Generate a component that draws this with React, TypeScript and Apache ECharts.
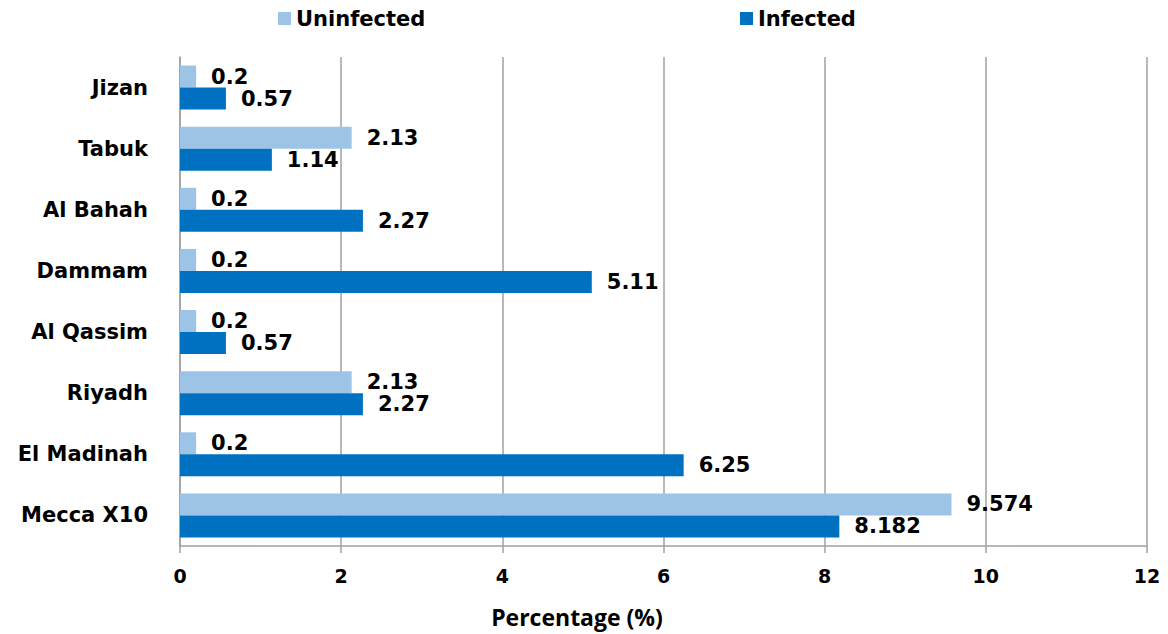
import React, { useEffect, useRef } from "react";
import * as echarts from "echarts";

const categories = ["Mecca X10", "El Madinah", "Riyadh", "Al Qassim", "Dammam", "Al Bahah", "Tabuk", "Jizan"];
const uninfected = [9.574, 0.2, 2.13, 0.2, 0.2, 0.2, 2.13, 0.2];
const infected = [8.182, 6.25, 2.27, 0.57, 5.11, 2.27, 1.14, 0.57];
const xTicks = { min: 0, max: 12, interval: 2 };

const FONT = "DejaVu Sans";

export default function App() {
  const ref = useRef<HTMLDivElement>(null);
  useEffect(() => {
    if (!ref.current) return;
    const chart = echarts.init(ref.current, undefined, { renderer: "svg" });
    const labelStyle = {
      show: true,
      position: "right" as const,
      distance: 15,
      color: "#000",
      fontFamily: FONT,
      fontWeight: "bold" as const,
      fontSize: 21,
    };
    const legendText = { fontFamily: FONT, fontWeight: "bold", fontSize: 21, color: "#000" };
    chart.setOption({
      animation: false,
      backgroundColor: "#fff",
      legend: [
        {
          data: ["Uninfected"],
          left: 273,
          top: 3,
          itemWidth: 13,
          itemHeight: 13,
          itemGap: 10,
          icon: "rect",
          textStyle: legendText,
        },
        {
          data: ["Infected"],
          left: 735,
          top: 3,
          itemWidth: 13,
          itemHeight: 13,
          icon: "rect",
          textStyle: legendText,
        },
      ],
      grid: { left: 180, right: 21, top: 57, bottom: 88, containLabel: false },
      xAxis: {
        type: "value",
        min: xTicks.min,
        max: xTicks.max,
        interval: xTicks.interval,
        axisLine: { show: true, lineStyle: { color: "#a0a0a0", width: 1.5 } },
        axisTick: { show: true, length: 7, lineStyle: { color: "#a0a0a0", width: 1.5 } },
        splitLine: { show: true, lineStyle: { color: "#a0a0a0", width: 1.5 } },
        axisLabel: { margin: 20, color: "#000", fontFamily: FONT, fontWeight: "bold", fontSize: 19 },
      },
      yAxis: {
        type: "category",
        data: categories,
        axisLine: { show: true, lineStyle: { color: "#a0a0a0", width: 1.5 } },
        axisTick: { show: false },
        axisLabel: { margin: 32, color: "#000", fontFamily: FONT, fontWeight: "bold", fontSize: 21 },
      },
      graphic: [
        {
          type: "text",
          x: 577,
          y: 617,
          style: {
            text: "Percentage (%)",
            fontFamily: "Open Sans",
            fontWeight: "bold",
            fontSize: 23,
            fill: "#000",
            align: "center",
            verticalAlign: "middle",
          },
        },
      ],
      series: [
        {
          name: "Uninfected",
          type: "bar",
          data: uninfected,
          barGap: "0%",
          barCategoryGap: "28%",
          itemStyle: { color: "#9dc3e6" },
          label: labelStyle,
        },
        {
          name: "Infected",
          type: "bar",
          data: infected,
          barGap: "0%",
          barCategoryGap: "28%",
          itemStyle: { color: "#0070c0" },
          label: labelStyle,
        },
      ],
    });
    return () => chart.dispose();
  }, []);
  return <div ref={ref} style={{ position: "fixed", left: 0, top: 0, width: 1168, height: 634 }} />;
}
